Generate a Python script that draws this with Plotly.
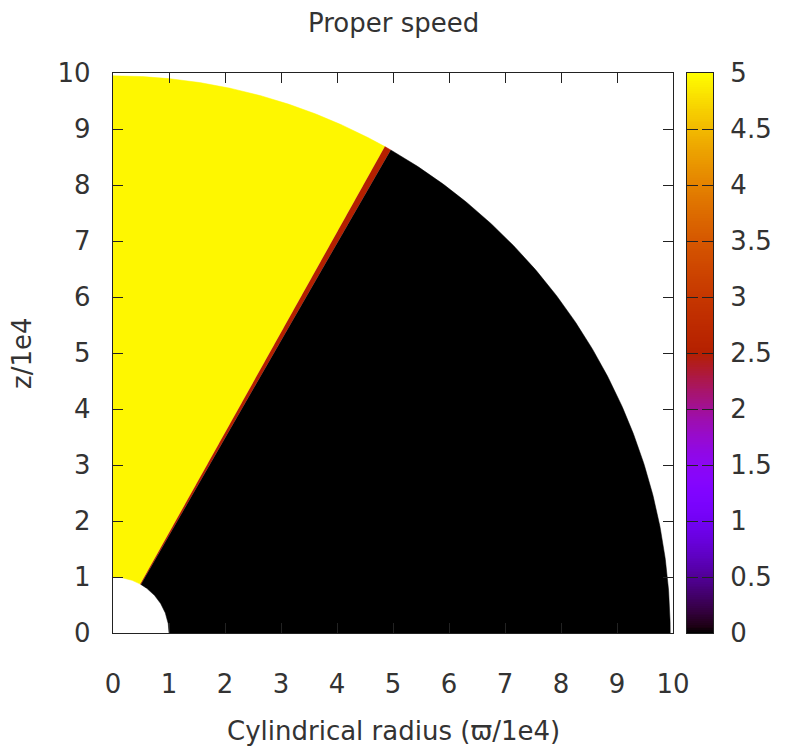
import numpy as np
import plotly.graph_objects as go

# ---- data (units of 1e4) ----
sector_theta_start = [0.0, 29.2, 29.9]    # polar angle from z axis, degrees
sector_theta_end = [29.2, 29.9, 90.0]
sector_value = [4.95, 2.5, 0.0]           # proper speed
r_inner = 1.0
r_outer = 9.95
cb_min, cb_max = 0.0, 5.0
x_ticks = list(range(0, 11))
y_ticks = list(range(0, 11))

# ---- gnuplot default palette (rgbformulae 7,5,15) ----
def palette(t):
    t = min(max(t, 0.0), 1.0)
    r = np.sqrt(t)
    g = t ** 3
    b = max(np.sin(2 * np.pi * t), 0.0)
    return "rgb(%d,%d,%d)" % (round(255 * r), round(255 * g), round(255 * b))

stops = np.linspace(0, 1, 101)
colorscale = [[float(s), palette(s)] for s in stops]

fig = go.Figure()

for th0, th1, v in zip(sector_theta_start, sector_theta_end, sector_value):
    th_out = np.radians(np.linspace(th0, th1, 200))
    th_in = th_out[::-1]
    xs = np.concatenate([r_outer * np.sin(th_out), r_inner * np.sin(th_in)])
    zs = np.concatenate([r_outer * np.cos(th_out), r_inner * np.cos(th_in)])
    col = palette((v - cb_min) / (cb_max - cb_min))
    fig.add_trace(go.Scatter(x=xs, y=zs, mode="lines", fill="toself",
                             fillcolor=col, line=dict(color=col, width=0.5),
                             hoverinfo="skip", showlegend=False,
                             xaxis="x", yaxis="y"))

# colour box
cb_y = np.linspace(cb_min, cb_max, 301)
fig.add_trace(go.Heatmap(z=[[v] for v in cb_y], y=cb_y, x=[0],
                         colorscale=colorscale, zmin=cb_min, zmax=cb_max,
                         showscale=False, hoverinfo="skip",
                         xaxis="x2", yaxis="y2"))

font = dict(family="DejaVu Sans", size=26, color="#333")
axis_common = dict(showgrid=False, zeroline=False, showline=True,
                   linecolor="#222", linewidth=1.3, mirror="ticks",
                   ticks="inside", ticklen=10, tickcolor="#222", tickwidth=1.3,
                   tickfont=font)

W0 = 113
paper_w = 713 - 113
fig.update_layout(
    width=790, height=749,
    margin=dict(l=113, r=77, t=73, b=116),
    paper_bgcolor="white", plot_bgcolor="white",
    font=font,
    xaxis=dict(domain=[0, 560 / paper_w], range=[0, 10], tickvals=x_ticks,
               ticklabelstandoff=28, **axis_common),
    yaxis=dict(domain=[0, 1], range=[0, 10], tickvals=y_ticks,
               ticklabelstandoff=16, **axis_common),
    xaxis2=dict(domain=[(687 - W0) / paper_w, 1], range=[-0.5, 0.5],
                showticklabels=False, showgrid=False, zeroline=False,
                showline=True, linecolor="#222", linewidth=1.3, mirror=True,
                ticks="", anchor="y2"),
    yaxis2=dict(domain=[0, 1], range=[cb_min, cb_max], dtick=0.5,
                side="right", anchor="x2", ticklabelstandoff=11,
                **{**axis_common, "ticklen": 11}),
    annotations=[
        dict(text="Proper speed", x=(393 - W0) / paper_w, y=1, xref="paper",
             yref="paper", yshift=50, showarrow=False, xanchor="center",
             yanchor="middle", font=font),
        dict(text="Cylindrical radius (ϖ/1e4)", x=(393 - W0) / paper_w, y=0,
             xref="paper", yref="paper", yshift=-98, showarrow=False,
             xanchor="center", yanchor="middle", font=font),
        dict(text="z/1e4", x=0, y=0.5, xref="paper", yref="paper",
             xshift=-91, showarrow=False, textangle=-90, xanchor="center",
             yanchor="middle", font=font),
    ],
)

fig.write_html("out.html")
